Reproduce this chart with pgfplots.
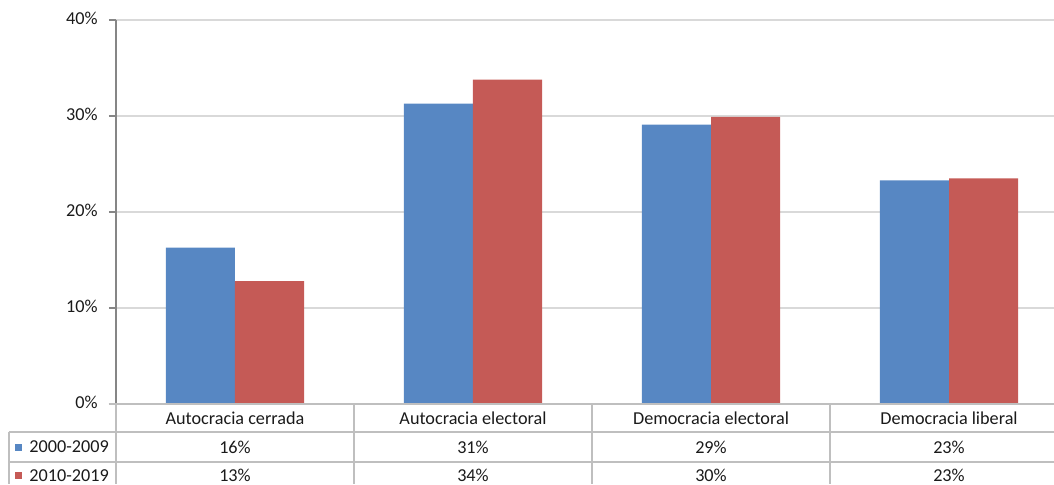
\documentclass[border=0pt]{standalone}
\usepackage{pgfplots}
\usepackage{pgfplotstable}
\pgfplotsset{compat=1.18}
\usepackage{fontspec}
\setmainfont{Carlito}
\definecolor{cblue}{HTML}{5787C3}
\definecolor{cred}{HTML}{C55A56}
\definecolor{gridc}{HTML}{D9D9D9}
\definecolor{axc}{HTML}{868686}
\definecolor{tabc}{HTML}{BFBFBF}
\definecolor{txt}{HTML}{1A1A1A}
\pgfplotstableread{
x a b
0 16.3 12.8
1 31.3 33.8
2 29.1 29.9
3 23.3 23.5
}\data
\newcommand{\f}{\fontsize{9.1}{11}\selectfont\color{txt}}
\begin{document}
\begin{tikzpicture}
\begin{axis}[
 scale only axis, width=469pt, height=192pt,
 at={(0,0)}, anchor=south west,
 xmin=-0.5, xmax=3.4412, ymin=0, ymax=40,
 ytick={0,10,20,30,40},
 yticklabels={0\%,10\%,20\%,30\%,40\%},
 xtick={0,1,2,3},
 xticklabels={Autocracia cerrada, Autocracia electoral, Democracia electoral, Democracia liberal},
 axis line style={draw=none},
 ymajorgrids, grid style={gridc, line width=0.6pt},
 ytick style={draw=axc, line width=0.6pt},
 xtick style={draw=none},
 major tick length=3.5pt,
 tick align=outside,
 yticklabel style={font=\f, anchor=east, inner sep=0pt, xshift=-5.5pt},
 xticklabel style={font=\f, anchor=center, inner sep=0pt, yshift=-4.3pt},
 typeset ticklabels with strut,
 clip=false,
]
\addplot[ybar, bar width=0.29, bar shift=-0.145, fill=cblue, draw=none] table[x=x,y=a]{\data};
\addplot[ybar, bar width=0.29, bar shift=0.145, fill=cred, draw=none] table[x=x,y=b]{\data};
% axes
\draw[axc, line width=0.6pt] (axis cs:-0.5,40) -- (axis cs:-0.5,0);
\draw[tabc, line width=0.6pt] ([xshift=-3.5pt]axis cs:-0.5,0) -- (rel axis cs:1,0);
\draw[tabc, line width=0.6pt] (axis cs:-0.5,0) -- ([yshift=-40pt]axis cs:-0.5,0);
% data table lines
\draw[tabc, line width=0.6pt] ([xshift=-53.5pt,yshift=-14pt]axis cs:-0.5,0) -- ([yshift=-14pt]rel axis cs:1,0);
\draw[tabc, line width=0.6pt] ([xshift=-53.5pt,yshift=-29pt]axis cs:-0.5,0) -- ([yshift=-29pt]rel axis cs:1,0);
\draw[tabc, line width=0.6pt] ([xshift=-53.5pt,yshift=-14pt]axis cs:-0.5,0) -- ([xshift=-53.5pt,yshift=-40pt]axis cs:-0.5,0);
\draw[tabc, line width=0.6pt] (axis cs:0.5,0) -- ([yshift=-40pt]axis cs:0.5,0);
\draw[tabc, line width=0.6pt] (axis cs:1.5,0) -- ([yshift=-40pt]axis cs:1.5,0);
\draw[tabc, line width=0.6pt] (axis cs:2.5,0) -- ([yshift=-40pt]axis cs:2.5,0);
% legend keys
\fill[cblue] ([xshift=-50.25pt,yshift=-23.25pt]axis cs:-0.5,0) rectangle ++(3.5pt,3.5pt);
\fill[cred] ([xshift=-50.25pt,yshift=-37.5pt]axis cs:-0.5,0) rectangle ++(3.5pt,3.5pt);
\node[font=\f, anchor=west, inner sep=0pt] at ([xshift=-43.5pt,yshift=-21.5pt]axis cs:-0.5,0) {2000-2009};
\node[font=\f, anchor=west, inner sep=0pt] at ([xshift=-43.5pt,yshift=-35.75pt]axis cs:-0.5,0) {2010-2019};
% values
\node[font=\f, inner sep=0pt] at ([yshift=-21.5pt]axis cs:0,0) {16\%};
\node[font=\f, inner sep=0pt] at ([yshift=-21.5pt]axis cs:1,0) {31\%};
\node[font=\f, inner sep=0pt] at ([yshift=-21.5pt]axis cs:2,0) {29\%};
\node[font=\f, inner sep=0pt] at ([yshift=-21.5pt]axis cs:3,0) {23\%};
\node[font=\f, inner sep=0pt] at ([yshift=-35.75pt]axis cs:0,0) {13\%};
\node[font=\f, inner sep=0pt] at ([yshift=-35.75pt]axis cs:1,0) {34\%};
\node[font=\f, inner sep=0pt] at ([yshift=-35.75pt]axis cs:2,0) {30\%};
\node[font=\f, inner sep=0pt] at ([yshift=-35.75pt]axis cs:3,0) {23\%};
\end{axis}
\pgfresetboundingbox
\useasboundingbox (-58pt,-40pt) rectangle (469pt,202pt);
\end{tikzpicture}
\end{document}
